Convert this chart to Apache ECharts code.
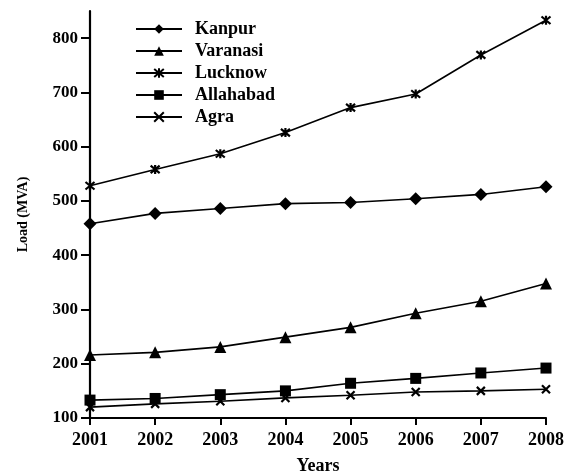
<!DOCTYPE html>
<html><head><meta charset="utf-8">
<script src="https://cdn.jsdelivr.net/npm/echarts@6/dist/echarts.min.js"></script>
<style>html,body{margin:0;padding:0;background:#fff}#c{width:576px;height:474px}</style>
</head><body><div id="c"></div>
<script>
const years = ['2001','2002','2003','2004','2005','2006','2007','2008'];
const kanpur    = [458, 477, 486, 495, 497, 504, 512, 526];
const varanasi  = [216, 221, 231, 249, 267, 293, 315, 348];
const lucknow   = [528, 558, 587, 626, 672, 697, 769, 833];
const allahabad = [133, 136, 143, 150, 164, 173, 183, 192];
const agra      = [120, 126, 131, 137, 142, 148, 150, 153];
const yTicks = [100, 200, 300, 400, 500, 600, 700, 800];

const FONT = 'Liberation Serif';
const crossPath = 'path://M0,0L10,10M10,0L0,10';
const starPath = 'path://M0,0L10,10M10,0L0,10M5,-1L5,11';
function mk(name, data, symbol, size, stroke) {
  return {
    name, type: 'line', data, symbol, symbolSize: size,
    lineStyle: { color: '#000', width: 1.6 },
    itemStyle: stroke ? { color: '#000', borderColor: '#000', borderWidth: 2.2 } : { color: '#000' },
    emphasis: { disabled: true }, animation: false
  };
}
const chart = echarts.init(document.getElementById('c'));
chart.setOption({
  animation: false,
  grid: { left: 90, right: 30, top: 11, bottom: 56, containLabel: false, outerBoundsMode: 'none' },
  legend: {
    orient: 'vertical', left: 130, top: 15, itemWidth: 46, itemHeight: 12, itemGap: 4,
    textStyle: { fontFamily: FONT, fontSize: 18, fontWeight: 'bold', color: '#000', padding: [0,0,0,8] },
    data: ['Kanpur', 'Varanasi', 'Lucknow', 'Allahabad', 'Agra']
  },
  xAxis: {
    type: 'category', data: years, boundaryGap: false,
    name: 'Years', nameLocation: 'middle', nameGap: 39,
    nameTextStyle: { fontFamily: FONT, fontSize: 18, fontWeight: 'bold', color: '#000' },
    axisLine: { lineStyle: { color: '#000', width: 2.2 } },
    axisTick: { show: true, length: 7, inside: false, alignWithLabel: true, lineStyle: { color: '#000', width: 2 } },
    axisLabel: { fontFamily: FONT, fontSize: 18, fontWeight: 'bold', color: '#000', margin: 13 },
    splitLine: { show: false }
  },
  yAxis: {
    type: 'value', min: 100, max: 850, interval: 100,
    name: 'Load (MVA)', nameLocation: 'middle', nameGap: 60, nameRotate: 90,
    nameTextStyle: { fontFamily: FONT, fontSize: 14, fontWeight: 'bold', color: '#000' },
    axisLine: { show: true, lineStyle: { color: '#000', width: 2.2 } },
    axisTick: { show: true, length: 9, lineStyle: { color: '#000', width: 2 }, customValues: yTicks },
    axisLabel: { fontFamily: FONT, fontSize: 17, fontWeight: 'bold', color: '#000', margin: 12, customValues: yTicks },
    splitLine: { show: false }
  },
  series: [
    mk('Kanpur', kanpur, 'diamond', 13, false),
    mk('Varanasi', varanasi, 'triangle', 12, false),
    mk('Lucknow', lucknow, starPath, 9, true),
    mk('Allahabad', allahabad, 'rect', 11, false),
    mk('Agra', agra, crossPath, 8, true)
  ]
});
</script></body></html>
